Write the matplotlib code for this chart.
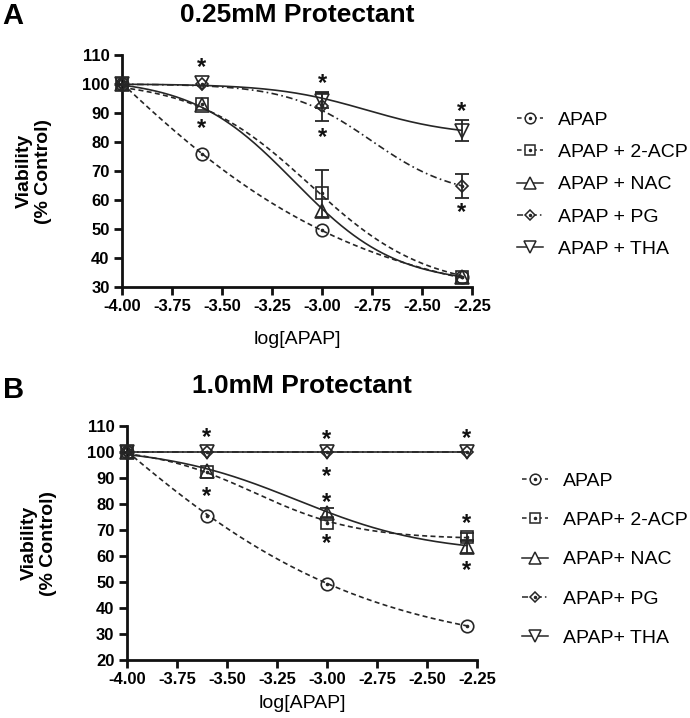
import numpy as np
import matplotlib
matplotlib.use("Agg")
import matplotlib.pyplot as plt
import matplotlib.transforms as mtransforms
from matplotlib.ticker import FormatStrFormatter, MultipleLocator
from matplotlib.lines import Line2D

plt.rcParams['font.family'] = ['Liberation Sans', 'DejaVu Sans']
plt.rcParams['axes.unicode_minus'] = False

# ---------------- data ----------------
log_apap = [-4.0, -3.602, -3.0, -2.301]
series_names = ["APAP", "2-ACP", "NAC", "PG", "THA"]

# Panel A: 0.25 mM protectant
a_labels = ["APAP", "APAP + 2-ACP", "APAP + NAC", "APAP + PG", "APAP + THA"]
a_apap = [100, 75.8, 49.6, 33.3]
a_acp = [100, 93.2, 62.3, 33.4]
a_nac = [100, 92.8, 56.2, 33.3]
a_pg = [100, 100, 92.3, 64.9]
a_tha = [100, 100.2, 94.3, 83.9]
a_err_apap = [0, 0, 0, 0]
a_err_acp = [0, 0, 8.2, 0]
a_err_nac = [0, 0, 0, 0]
a_err_pg = [0, 0, 5.0, 4.2]
a_err_tha = [0, 0, 2.7, 3.7]
# fitted sigmoid parameters (top, bottom, logEC50, hill)
a_fit_apap = [210, 22, -4.237, 0.62]
a_fit_acp = [101.5, 29, -3.06, 1.5]
a_fit_nac = [102, 31, -3.14, 1.7]
a_fit_pg = [100, 61, -2.754, 2.1]
a_fit_tha = [100, 82, -2.775, 1.9]
a_star_x = [-3.602, -3.602, -3.0, -3.0, -2.301, -2.301]
a_star_y = [107.0, 86.0, 101.5, 83.0, 92.0, 57.0]

# Panel B: 1.0 mM protectant
b_labels = ["APAP", "APAP+ 2-ACP", "APAP+ NAC", "APAP+ PG", "APAP+ THA"]
b_apap = [100, 75.4, 49.2, 33.1]
b_acp = [100, 92.2, 72.6, 67.4]
b_nac = [100, 92.8, 76.5, 63.6]
b_pg = [100, 100, 100, 100]
b_tha = [100, 100, 100, 100]
b_err_apap = [0, 0, 0, 0]
b_err_acp = [0, 0, 0, 1.6]
b_err_nac = [0, 0, 2.0, 2.5]
b_err_pg = [0, 0, 0, 0]
b_err_tha = [0, 0, 0, 0]
b_fit_apap = [210, 22, -4.237, 0.62]
b_fit_acp = [102, 66.5, -3.36, 1.7]
b_fit_nac = [102, 61, -3.15, 1.3]
b_fit_pg = [100, 100, -3.0, 1.0]
b_fit_tha = [100, 100, -3.0, 1.0]
b_star_x = [-3.602, -3.602, -3.0, -3.0, -3.0, -3.0, -2.301, -2.301, -2.301]
b_star_y = [107.3, 84.6, 106.5, 92.3, 82.3, 66.2, 106.8, 74.2, 55.8]

# ---------------- styles ----------------
col = "#262626"
styles = {
    "APAP": dict(marker="o", ls=(0, (3.0, 2.0)), dot=True),
    "2-ACP": dict(marker="s", ls=(0, (3.0, 2.0)), dot=True),
    "NAC": dict(marker="^", ls="-", dot=False),
    "PG": dict(marker="D", ls=(0, (4, 2, 1, 2)), dot=True),
    "THA": dict(marker="v", ls="-", dot=False),
}
msize = {"o": 9, "s": 9, "^": 9.5, "D": 6.5, "v": 9.5}


def four_pl(x, p):
    top, bottom, c, h = p
    return bottom + (top - bottom) / (1.0 + 10 ** ((x - c) * h))


fig = plt.figure(figsize=(6.9, 7.18), dpi=100)


def panel(rect, ylim, yticks_step, vals, errs, fits, labels, stars, title, letter,
          letter_y, title_y, leg_anchor, leg_spacing, xlab_y):
    ax = fig.add_axes(rect)
    xs = np.array(log_apap)
    xc = np.linspace(xs.min(), xs.max(), 300)
    handles = []
    for name, v, e, p in zip(series_names, vals, errs, fits):
        st = styles[name]
        ax.plot(xc, four_pl(xc, p), color=col, lw=1.2, ls=st["ls"], zorder=2)
        v = np.array(v, float)
        e = np.array(e, float)
        m = e > 0
        if m.any():
            ax.errorbar(xs[m], v[m], yerr=e[m], fmt="none", ecolor=col,
                        elinewidth=1.3, capsize=5, capthick=1.3, zorder=3,
                        clip_on=False)
        ax.plot(xs, v, ls="none", marker=st["marker"], ms=msize[st["marker"]],
                mfc="none", mec=col, mew=1.2, zorder=4, clip_on=False)
        if st["dot"]:
            ax.plot(xs, v, ls="none", marker="o", ms=1.6, mfc=col, mec=col,
                    zorder=4, clip_on=False)
        h1 = Line2D([], [], color=col, lw=1.1, ls=st["ls"], marker=st["marker"],
                    ms=msize[st["marker"]] * 0.85, mfc="white", mec=col, mew=1.1)
        if st["dot"]:
            h2 = Line2D([], [], ls="none", marker="o", ms=1.5, mfc=col, mec=col)
            handles.append((h1, h2))
        else:
            handles.append(h1)
    sx, sy = stars
    star_tr = mtransforms.offset_copy(ax.transData, fig=fig, x=0, y=-4,
                                      units="dots")
    for x, y in zip(sx, sy):
        ax.text(x, y, "*", ha="center", va="center", fontsize=17,
                fontweight="bold", color="#111", clip_on=False,
                transform=star_tr)
    ax.set_xlim(-4.0, -2.25)
    ax.set_ylim(*ylim)
    ax.xaxis.set_major_locator(MultipleLocator(0.25))
    ax.yaxis.set_major_locator(MultipleLocator(yticks_step))
    ax.xaxis.set_major_formatter(FormatStrFormatter("%.2f"))
    for s in ["top", "right"]:
        ax.spines[s].set_visible(False)
    for s in ["left", "bottom"]:
        ax.spines[s].set_linewidth(2.0)
        ax.spines[s].set_color("#111")
    ax.tick_params(direction="out", length=6, width=2.0, color="#111",
                   labelsize=12, pad=3)
    for lab in ax.get_xticklabels() + ax.get_yticklabels():
        lab.set_fontweight("bold")
    ax.set_xlabel("log[APAP]", fontsize=14)
    ax.xaxis.set_label_coords(0.5, xlab_y)
    ax.set_ylabel("Viability\n(% Control)", fontsize=14, fontweight="bold",
                  linespacing=1.15)
    ax.yaxis.set_label_coords(-0.2, 0.5)
    fig.text(0.5 * (rect[0] * 2 + rect[2]), title_y, title, ha="center",
             va="center", fontsize=19, fontweight="bold")
    fig.text(0.004, letter_y, letter, ha="left", va="center", fontsize=21,
             fontweight="bold")
    fig.legend(handles, labels, loc="upper left", bbox_to_anchor=leg_anchor,
               frameon=False, fontsize=14, handlelength=1.35,
               handletextpad=0.75, labelspacing=leg_spacing, borderpad=0,
               borderaxespad=0)
    return ax


panel([122 / 690, 1 - 287 / 718, 350 / 690, 232 / 718], (30, 110), 10,
      [a_apap, a_acp, a_nac, a_pg, a_tha],
      [a_err_apap, a_err_acp, a_err_nac, a_err_pg, a_err_tha],
      [a_fit_apap, a_fit_acp, a_fit_nac, a_fit_pg, a_fit_tha],
      a_labels, (a_star_x, a_star_y), "0.25mM Protectant", "A",
      1 - 16 / 718, 1 - 15 / 718, (517 / 690, 1 - 111 / 718), 0.76, -0.19)

panel([127 / 690, 1 - 660 / 718, 350 / 690, 234 / 718], (20, 110), 10,
      [b_apap, b_acp, b_nac, b_pg, b_tha],
      [b_err_apap, b_err_acp, b_err_nac, b_err_pg, b_err_tha],
      [b_fit_apap, b_fit_acp, b_fit_nac, b_fit_pg, b_fit_tha],
      b_labels, (b_star_x, b_star_y), "1.0mM Protectant", "B",
      1 - 390 / 718, 1 - 386 / 718, (522 / 690, 1 - 472 / 718), 1.12, -0.15)

fig.savefig("out.png", dpi=100)
